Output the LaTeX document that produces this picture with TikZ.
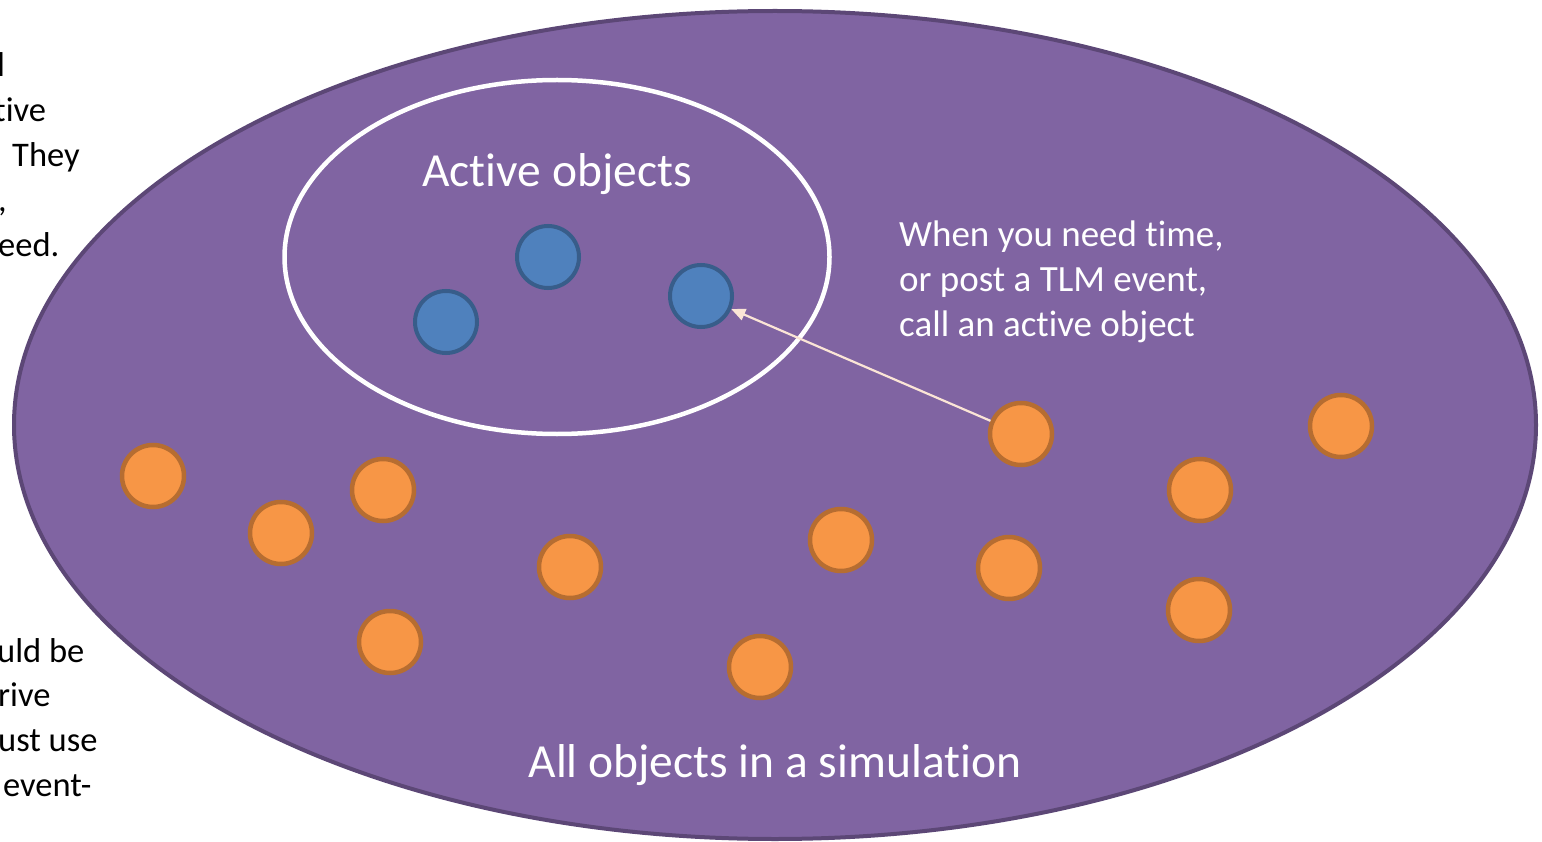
\documentclass[tikz,border=0pt]{standalone}
\usepackage{fontspec}
\setmainfont{Carlito}[Ligatures=NoCommon]
\usetikzlibrary{arrows.meta,shapes.geometric}
\definecolor{purplefill}{HTML}{8064A2}
\definecolor{purpleline}{HTML}{5C4776}
\definecolor{bluefill}{HTML}{4F81BD}
\definecolor{blueline}{HTML}{385D8A}
\definecolor{orangefill}{HTML}{F79646}
\definecolor{orangeline}{HTML}{B66D31}
\definecolor{arrowcol}{HTML}{FBE5D6}
\tikzset{
  activeobj/.style={circle, draw=blueline, fill=bluefill, line width=4pt, minimum size=62pt, inner sep=0pt},
  plainobj/.style={circle, draw=orangeline, fill=orangefill, line width=4.5pt, minimum size=62pt, inner sep=0pt},
  sidetext/.style={anchor=base west, inner sep=0pt, font=\fontsize{34.5}{40}\selectfont, text=black},
  whitetext/.style={anchor=base west, inner sep=0pt, font=\fontsize{37}{45}\selectfont, text=white},
  bigtext/.style={anchor=base, inner sep=0pt, font=\fontsize{47.5}{56}\selectfont, text=white},
}
\begin{document}
\begin{tikzpicture}[x=1pt,y=-1pt]
\useasboundingbox (0,0) rectangle (1542,842);
\clip (0,0) rectangle (1542,842);
% left cut-off texts
\node[sidetext] (t1) at (-3,77) {l};
\node[sidetext] (t2) at (-6,122) {tive};
\node[sidetext] (t3) at (12,167) {They};
\node[sidetext] (t4) at (-2,212) {,};
\node[sidetext] (t5) at (-2,257) {eed.};
\node[sidetext] (b1) at (-3,662) {uld be};
\node[sidetext] (b2) at (-2,706) {rive};
\node[sidetext] (b3) at (-2,751) {ust use};
\node[sidetext] (b4) at (3,796) {event-};
% all objects
\node[ellipse, draw=purpleline, fill=purplefill, line width=4pt, minimum width=1522pt, minimum height=828pt, inner sep=0pt] (all) at (775,425) {};
% active objects
\node[ellipse, draw=white, fill=none, line width=4.5pt, minimum width=545pt, minimum height=354pt, inner sep=0pt] (act) at (557,257) {};
\node[bigtext] (actlabel) at (557,187) {Active objects};
\node[activeobj] (a1) at (548,257) {};
\node[activeobj] (a2) at (446,322) {};
\node[activeobj] (a3) at (701,296) {};
% other objects
\node[plainobj] (o1) at (153,476) {};
\node[plainobj] (o2) at (281,533) {};
\node[plainobj] (o3) at (383,490) {};
\node[plainobj] (o4) at (570,567) {};
\node[plainobj] (o5) at (390,642) {};
\node[plainobj] (o6) at (760,667) {};
\node[plainobj] (o7) at (841,540) {};
\node[plainobj] (o8) at (1009,568) {};
\node[plainobj] (o9) at (1021,434) {};
\node[plainobj] (o10) at (1200,490) {};
\node[plainobj] (o11) at (1199,610) {};
\node[plainobj] (o12) at (1341,426) {};
% arrow
\draw[arrowcol, line width=2.2pt, -{Triangle[length=14pt,width=12pt]}] (o9) -- (a3);
% texts
\node[whitetext] (w1) at (899,247) {When you need time,};
\node[whitetext] (w2) at (899,292) {or post a TLM event,};
\node[whitetext] (w3) at (899,337) {call an active object};
\node[bigtext] (alllabel) at (775,777) {All objects in a simulation};
\end{tikzpicture}
\end{document}
